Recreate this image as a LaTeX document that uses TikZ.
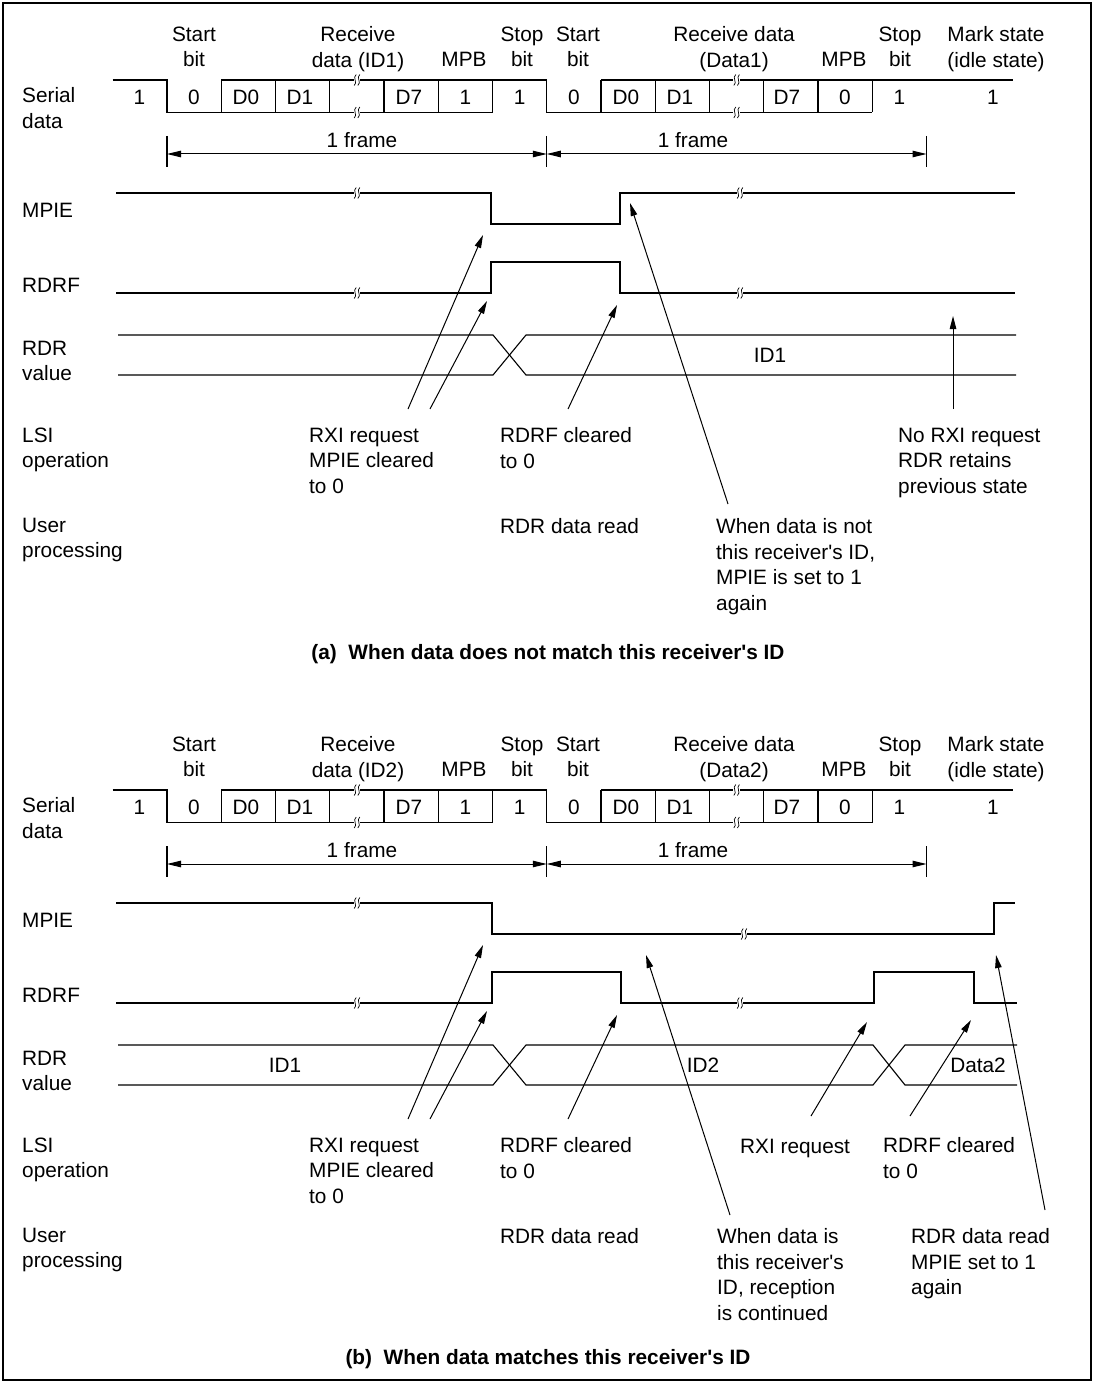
\documentclass[tikz,border=0pt]{standalone}
\usepackage{fontspec}
\setmainfont{Liberation Sans}[Ligatures=TeXOff]
\usetikzlibrary{arrows.meta}
\tikzset{
  sig/.style={line width=1.1pt},
  txt/.style={inner sep=0pt, font=\fontsize{20.8}{25.5}\selectfont},
  lbl/.style={txt, align=left, anchor=north west},
  ctr/.style={txt, align=center, anchor=north},
  one/.style={txt, anchor=base},
  ptr/.style={line width=1pt, -{Triangle[length=13pt,width=6.5pt]}},
  dimarrow/.style={line width=1pt, {Triangle[length=14pt,width=6.5pt]}-{Triangle[length=14pt,width=6.5pt]}},
}
\newcommand{\brkmark}[2]{%
  \fill[white] (#1-3.2,#2-1.7) rectangle (#1+3.2,#2+1.7);
  \draw[line width=0.7pt] (#1-0.8,#2-5.5) .. controls (#1-5,#2-2.5) and (#1+1.2,#2+2.5) .. (#1-2.8,#2+5.5);
  \draw[line width=0.7pt] (#1+2.8,#2-5.5) .. controls (#1-1.2,#2-2.5) and (#1+5,#2+2.5) .. (#1+0.8,#2+5.5);
}
\newcommand{\serialrow}[3]{%
  \draw[sig] (112.5,80) -- (167,80) -- (167,112.5) -- (492.5,112.5);
  \draw[sig] (221.25,80) -- (546.75,80) -- (546.75,112.5) -- (872.25,112.5);
  \draw[sig] (601,80) -- (1013,80);
  \foreach \xx in {221.25,275.5,329.75,384,438.25,492.5,601,655.25,709.5,763.75,818,872.25}
    {\draw[sig] (\xx,80) -- (\xx,112.5);}
  \brkmark{357}{80}\brkmark{357}{112.5}\brkmark{736.6}{80}\brkmark{736.6}{112.5}
  \foreach \xx/\dd [count=\nn] in {139.5/1,194/0,246/D0,300/D1,409/D7,465.4/1,519.6/1,574/0,626/D0,680/D1,787/D7,845/0,899.4/1,993/1}
    {\node[one] (#1dig\nn) at (\xx,104.5) {\dd};}
  \node[ctr] (#1st1) at (194,26.5) {Start\\bit};
  \node[ctr] (#1rx1) at (358,26.5) {Receive\\data (#2)};
  \node[one] (#1mpb1) at (464,66.5) {MPB};
  \node[ctr] (#1sp1) at (522,26.5) {Stop\\bit};
  \node[ctr] (#1st2) at (578,26.5) {Start\\bit};
  \node[ctr] (#1rx2) at (734,26.5) {Receive data\\(#3)};
  \node[one] (#1mpb2) at (844,66.5) {MPB};
  \node[ctr] (#1sp2) at (900,26.5) {Stop\\bit};
  \node[ctr] (#1mk) at (996,26.5) {Mark state\\(idle state)};
  \node[lbl] (#1ser) at (22,87.3) {Serial\\data};
  \draw[sig] (167,136) -- (167,167);
  \draw[sig] (546.75,136) -- (546.75,167);
  \draw[sig] (926.5,136) -- (926.5,167);
  \coordinate (#1f0) at (167,154);
  \coordinate (#1f1) at (546.75,154);
  \coordinate (#1f2) at (926.5,154);
  \draw[dimarrow] (#1f0) -- (#1f1);
  \draw[dimarrow] (#1f1) -- (#1f2);
  \node[one] (#1fr1) at (362,147.5) {1 frame};
  \node[one] (#1fr2) at (693,147.5) {1 frame};
  \node[one,anchor=base west] (#1mpie) at (22,217.5) {MPIE};
  \node[one,anchor=base west] (#1rdrf) at (22,292.5) {RDRF};
  \node[lbl] (#1rdr) at (22,340.5) {RDR\\value};
  \node[lbl] (#1lsi) at (22,427.5) {LSI\\operation};
  \node[lbl] (#1usr) at (22,517.5) {User\\processing};
}
\begin{document}
\begin{tikzpicture}[x=1pt,y=-1pt]
\useasboundingbox (0,0) rectangle (1094,1383);
\draw[line width=1.2pt] (3,3) rectangle (1091,1380);

% ---------------- (a) ----------------
\serialrow{a}{ID1}{Data1}
\draw[sig] (116,193) -- (491,193) -- (491,224) -- (620,224) -- (620,193) -- (1015,193);
\draw[sig] (116,293) -- (491,293) -- (491,262) -- (620,262) -- (620,293) -- (1015,293);
\draw[sig] (118,335) -- (493,335) -- (526,375) -- (1016,375);
\draw[sig] (118,375) -- (493,375) -- (526,335) -- (1016,335);
\brkmark{357}{193}\brkmark{740}{193}\brkmark{357}{293}\brkmark{740}{293}
\node[one] (aid1) at (770,362.5) {ID1};
\node[lbl] (arxi) at (309,427.5) {RXI request\\MPIE cleared\\to 0};
\node[lbl] (aclr) at (500,427.5) {RDRF cleared\\to 0};
\node[lbl] (anorxi) at (898,427.5) {No RXI request\\RDR retains\\previous state};
\node[one,anchor=base west] (aread) at (500,533.5) {RDR data read};
\node[lbl] (anot) at (716,518.5) {When data is not\\this receiver's ID,\\MPIE is set to 1\\again};
\node[one,font=\fontsize{20.8}{25.5}\selectfont\bfseries] (acap) at (548,659.5) {(a)\ \ When data does not match this receiver's ID};
\coordinate (aT1) at (408,409);  \coordinate (aH1) at (483,235);
\coordinate (aT2) at (430,409);  \coordinate (aH2) at (487,301);
\coordinate (aT3) at (568,409);  \coordinate (aH3) at (617,305);
\coordinate (aT4) at (728,504);  \coordinate (aH4) at (630,203);
\coordinate (aT5) at (953,409);  \coordinate (aH5) at (953,316);
\draw[ptr] (aT1) -- (aH1);
\draw[ptr] (aT2) -- (aH2);
\draw[ptr] (aT3) -- (aH3);
\draw[ptr] (aT4) -- (aH4);
\draw[ptr] (aT5) -- (aH5);

% ---------------- (b) ----------------
\begin{scope}[shift={(0,710)}]
\serialrow{b}{ID2}{Data2}
\end{scope}
\draw[sig] (116,903) -- (492,903) -- (492,934) -- (994,934) -- (994,903) -- (1015,903);
\draw[sig] (116,1003) -- (492,1003) -- (492,972) -- (621,972) -- (621,1003) -- (874,1003) -- (874,972) -- (974,972) -- (974,1003) -- (1017,1003);
\draw[sig] (118,1045) -- (493,1045) -- (526,1085) -- (873,1085) -- (905,1045) -- (1017,1045);
\draw[sig] (118,1085) -- (493,1085) -- (526,1045) -- (873,1045) -- (905,1085) -- (1017,1085);
\brkmark{357}{903}\brkmark{744}{934}\brkmark{357}{1003}\brkmark{740}{1003}
\node[one] (bid1) at (285,1072.5) {ID1};
\node[one] (bid2) at (703,1072.5) {ID2};
\node[one] (bdata2) at (978,1072.5) {Data2};
\node[lbl] (brxi) at (309,1137.5) {RXI request\\MPIE cleared\\to 0};
\node[lbl] (bclr) at (500,1137.5) {RDRF cleared\\to 0};
\node[one,anchor=base west] (brxi2) at (740,1153.5) {RXI request};
\node[lbl] (bclr2) at (883,1137.5) {RDRF cleared\\to 0};
\node[one,anchor=base west] (bread) at (500,1243.5) {RDR data read};
\node[lbl] (bis) at (717,1228.5) {When data is\\this receiver's\\ID, reception\\is continued};
\node[lbl] (bread2) at (911,1228.5) {RDR data read\\MPIE set to 1\\again};
\node[one,font=\fontsize{20.8}{25.5}\selectfont\bfseries] (bcap) at (548,1364.5) {(b)\ \ When data matches this receiver's ID};
\coordinate (bT1) at (408,1119);  \coordinate (bH1) at (483,945);
\coordinate (bT2) at (430,1119);  \coordinate (bH2) at (487,1011);
\coordinate (bT3) at (568,1119);  \coordinate (bH3) at (617,1015);
\coordinate (bT4) at (730,1215);  \coordinate (bH4) at (646,955);
\coordinate (bT5) at (811,1116);  \coordinate (bH5) at (867,1022);
\coordinate (bT6) at (910,1116);  \coordinate (bH6) at (971,1020);
\coordinate (bT7) at (1045,1210); \coordinate (bH7) at (996,955);
\draw[ptr] (bT1) -- (bH1);
\draw[ptr] (bT2) -- (bH2);
\draw[ptr] (bT3) -- (bH3);
\draw[ptr] (bT4) -- (bH4);
\draw[ptr] (bT5) -- (bH5);
\draw[ptr] (bT6) -- (bH6);
\draw[ptr] (bT7) -- (bH7);
\end{tikzpicture}
\end{document}
